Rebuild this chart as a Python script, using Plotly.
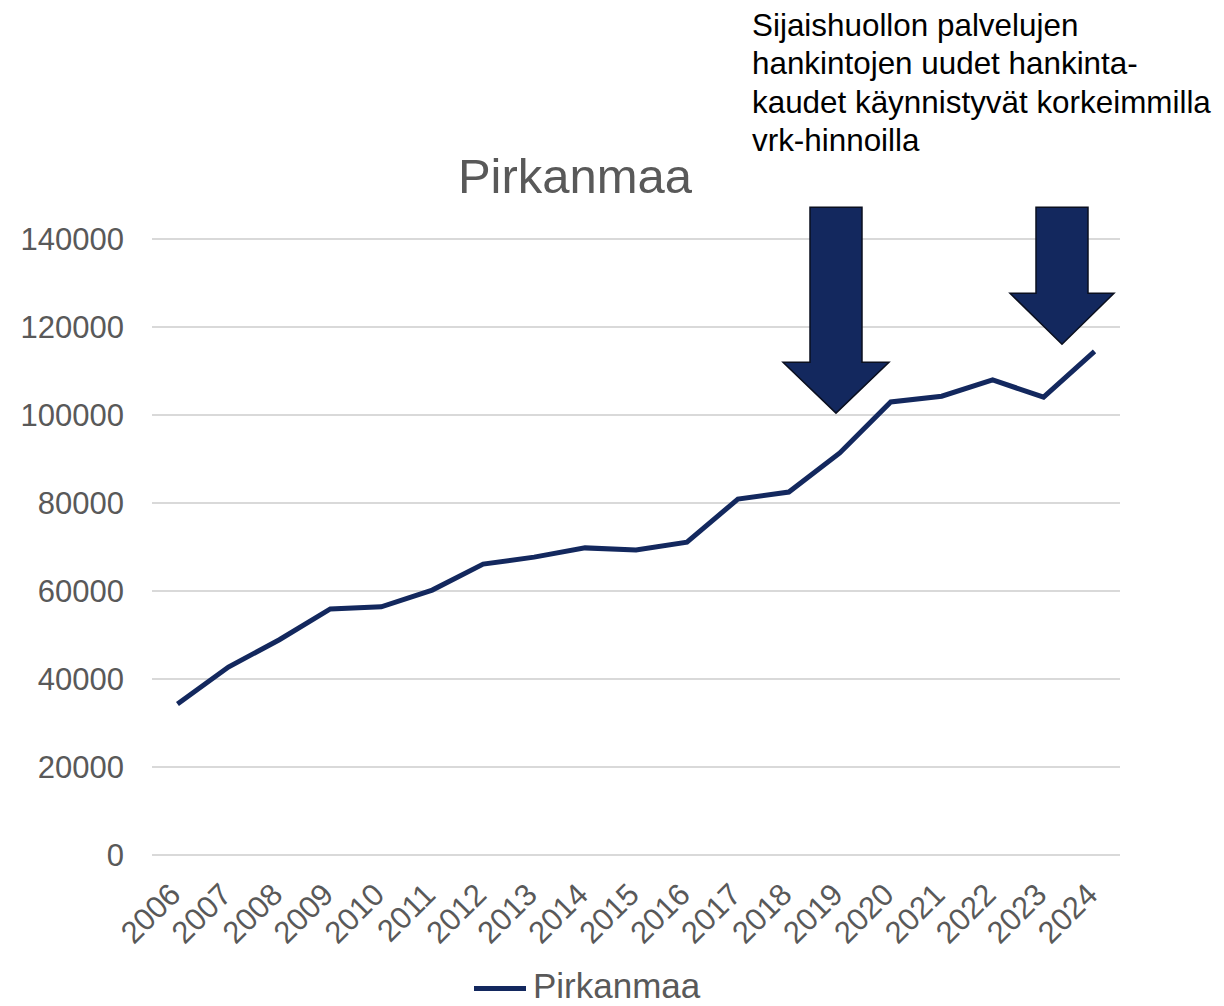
import plotly.graph_objects as go

years = [str(y) for y in range(2006, 2025)]
values = [34300, 42700, 48900, 55900, 56400, 60200, 66100, 67700, 69800, 69300,
          71100, 80900, 82500, 91400, 103000, 104300, 108000, 104100, 114500]
series_name = "Pirkanmaa"
title_text = "Pirkanmaa"
note_lines = ["Sijaishuollon palvelujen", "hankintojen uudet hankinta-",
              "kaudet käynnistyvät korkeimmilla", "vrk-hinnoilla"]

OFF = 8  # default page body margin
W, H = 1224 - OFF, 1006 - OFF
YMAX = 140000
EXT = 300  # small range extension so edge gridlines are drawn
L, R = 152 - OFF, 1120 - OFF
T0, B0 = 239 - OFF, 855 - OFF
K = (B0 - T0) / YMAX
T, B = T0 - EXT * K, B0 + EXT * K

NAVY = "#13285E"
GRAY = "#595959"
FONT = "Liberation Sans, Arial, sans-serif"


def px(x):  # reference pixel x -> paper
    return (x - OFF - L) / (R - L)


def py(y):  # reference pixel y -> paper
    return (B - (y - OFF)) / (B - T)


def arrow_path(cx, top, head_y, tip_y, sw, hw):
    pts = [(cx - sw, top), (cx + sw, top), (cx + sw, head_y), (cx + hw, head_y),
           (cx, tip_y), (cx - hw, head_y), (cx - sw, head_y)]
    return "M " + " L ".join(f"{px(a):.5f},{py(b):.5f}" for a, b in pts) + " Z"


fig = go.Figure()
fig.add_trace(go.Scatter(x=years, y=values, mode="lines", name=series_name,
                         line=dict(color=NAVY, width=5), showlegend=False))

shapes = []
for cx, top, hy, ty, sw, hw in [(836, 207, 362, 413, 26, 53), (1062, 207, 293, 344, 26, 52)]:
    shapes.append(dict(type="path", xref="paper", yref="paper",
                       path=arrow_path(cx, top, hy, ty, sw, hw),
                       fillcolor=NAVY, line=dict(color="#0a0f1f", width=1.5), layer="above"))

# legend (custom so the sample line matches length)
shapes.append(dict(type="line", xref="paper", yref="paper",
                   x0=px(474), x1=px(526), y0=py(989), y1=py(989),
                   line=dict(color=NAVY, width=5)))

annotations = []
for i, line in enumerate(note_lines):
    annotations.append(dict(text=line, xref="paper", yref="paper", x=px(750),
                            y=py(25 + i * 38.3), xanchor="left", yanchor="middle",
                            showarrow=False, font=dict(family=FONT, size=31.4, color="black")))
annotations.append(dict(text=series_name, xref="paper", yref="paper", x=px(531),
                        y=py(986), xanchor="left", yanchor="middle", showarrow=False,
                        font=dict(family=FONT, size=35, color=GRAY)))

fig.update_layout(
    width=W, height=H,
    margin=dict(l=L, r=W - R, t=T, b=H - B, pad=0),
    paper_bgcolor="white", plot_bgcolor="white",
    font=dict(family=FONT, size=31, color=GRAY),
    showlegend=False,
    title=dict(text=title_text, x=(575 - OFF) / W, xref="container", xanchor="center",
               y=1 - (168) / H, yref="container", yanchor="middle",
               font=dict(size=49, color=GRAY, family=FONT)),
    xaxis=dict(type="category", range=[-0.5, len(years) - 0.5], tickangle=-45,
               showgrid=False, showline=False, ticks="", ticklabelstandoff=13,
               ticklabelshift=-6, tickfont=dict(size=31, color=GRAY)),
    yaxis=dict(range=[-EXT, YMAX + EXT], tickvals=list(range(0, YMAX + 1, 20000)),
               showgrid=True, gridcolor="#D9D9D9", gridwidth=1.5, zeroline=False,
               showline=False, ticks="", tickfont=dict(size=31, color=GRAY),
               ticklabelstandoff=27, tickformat="d"),
    shapes=shapes, annotations=annotations,
)

fig.write_html("out.html")
